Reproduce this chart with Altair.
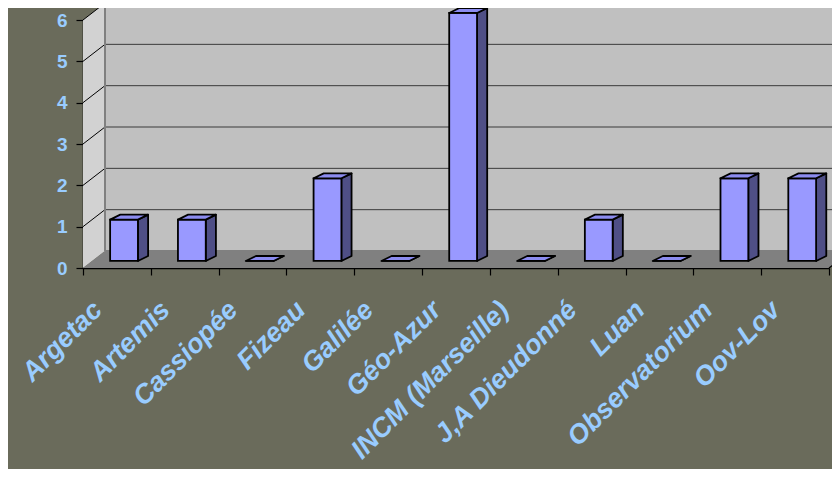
import altair as alt
import pandas as pd

# ---- data ----
categories = ["Argetac", "Artemis", "Cassiopée", "Fizeau", "Galilée", "Géo-Azur",
              "INCM (Marseille)", "J,A Dieudonné", "Luan", "Observatorium", "Oov-Lov"]
values = [1, 1, 0, 2, 0, 6, 0, 1, 0, 2, 2]
y_ticks = [0, 1, 2, 3, 4, 5, 6]

N = len(categories)
YMAX = max(y_ticks)

# ---- 3D geometry (style constants, in data units) ----
DX, DY = 0.324, 0.411        # depth of the box (x, y)
BX0, BX1 = 0.40, 0.81        # bar front face within a category cell
BB = 0.17                    # bar base above the front floor edge
SDX, SDY = 0.15, 0.12        # bar depth

BG = "#6a6b5b"
LABEL = "#99ccff"
FONT = "Liberation Sans"

xs = alt.Scale(domain=[0, N], nice=False, zero=False)
ys = alt.Scale(domain=[0, YMAX], nice=False, zero=False)

x_axis = alt.Axis(values=list(range(N + 1)), labels=False, tickSize=7,
                  tickColor="black", domainColor="black", grid=False,
                  domainWidth=1.5, tickWidth=1.2, title=None)
y_axis = alt.Axis(values=y_ticks, labelColor=LABEL, labelFont=FONT,
                  labelFontWeight="bold", labelFontSize=19, labelPadding=9,
                  tickSize=7, tickColor="black", domainColor="black",
                  grid=False, domainWidth=1.5, tickWidth=1.2, title=None)


def X(f="x"):
    return alt.X(f + ":Q", scale=xs, axis=x_axis, title=None)


def Y(f="y"):
    return alt.Y(f + ":Q", scale=ys, axis=y_axis, title=None)


# back wall
wall = pd.DataFrame({"x": [DX], "x2": [N + DX], "y": [DY], "y2": [YMAX + DY]})
back = alt.Chart(wall).mark_rect(fill="#c0c0c0", stroke="#808080", strokeWidth=2).encode(
    x=X(), x2="x2:Q", y=Y(), y2="y2:Q")

# left wall
lw = pd.DataFrame({"x": [0, DX], "y": [0, DY], "y2": [YMAX, YMAX + DY]})
left = alt.Chart(lw).mark_area(fill="#d2d2d2", orient="vertical").encode(
    x=X(), y=Y(), y2="y2:Q")

# floor
fl = pd.DataFrame({"x": [0, DX, N, N + DX], "y": [0, 0, 0, DY], "y2": [0, DY, DY, DY]})
floor = alt.Chart(fl).mark_area(fill="#808080", orient="vertical").encode(
    x=X(), y=Y(), y2="y2:Q")
floor_edge = alt.Chart(pd.DataFrame({"x": [N], "x2": [N + DX], "y": [0], "y2": [DY]})).mark_rule(
    color="black", strokeWidth=1.2).encode(x=X(), x2="x2:Q", y=Y(), y2="y2:Q")

# grid lines on the back wall and left wall
gl = pd.DataFrame({"k": y_ticks[1:-1]})
gl["y"] = gl["k"] + DY
gl["x"] = DX
gl["x2"] = N + DX
grid_back = alt.Chart(gl).mark_rule(color="#3a3a3a", strokeWidth=1).encode(
    x=X(), x2="x2:Q", y=Y())
gd = pd.DataFrame({"k": y_ticks[1:]})
gd["x"] = 0.0
gd["x2"] = DX
gd["y"] = gd["k"]
gd["y2"] = gd["k"] + DY
grid_left = alt.Chart(gd).mark_rule(color="black", strokeWidth=1).encode(
    x=X(), x2="x2:Q", y=Y(), y2="y2:Q")
left_edge = alt.Chart(pd.DataFrame({"x": [DX], "y": [DY], "y2": [YMAX + DY]})).mark_rule(
    color="#808080", strokeWidth=2).encode(x=X(), y=Y(), y2="y2:Q")

# bars
front_rows, side_rows, top_rows = [], [], []
for i, v in enumerate(values):
    xl, xr, b, t = i + BX0, i + BX1, BB, v + BB
    front_rows.append({"i": i, "x": xl, "x2": xr, "y": b, "y2": t})
    side_rows += [{"i": i, "x": xr, "y": b, "y2": t},
                  {"i": i, "x": xr + SDX, "y": b + SDY, "y2": t + SDY}]
    top_rows += [{"i": i, "x": xl, "y": t, "y2": t},
                 {"i": i, "x": xl + SDX, "y": t, "y2": t + SDY},
                 {"i": i, "x": xr, "y": t, "y2": t + SDY},
                 {"i": i, "x": xr + SDX, "y": t + SDY, "y2": t + SDY}]

side = alt.Chart(pd.DataFrame(side_rows)).mark_area(
    fill="#4f4f86", stroke="black", strokeWidth=1.8, orient="vertical", strokeJoin="round").encode(
    x=X(), y=Y(), y2="y2:Q", detail="i:N")
front = alt.Chart(pd.DataFrame(front_rows)).mark_rect(
    fill="#9999ff", stroke="black", strokeWidth=1.8).encode(
    x=X(), x2="x2:Q", y=Y(), y2="y2:Q")
top = alt.Chart(pd.DataFrame(top_rows)).mark_area(
    fill="#8c8cf0", stroke="black", strokeWidth=1.8, orient="vertical", strokeJoin="round").encode(
    x=X(), y=Y(), y2="y2:Q", detail="i:N")

# category labels
lab = pd.DataFrame({"x": [i + 0.5 for i in range(N)], "y": [0] * N, "label": categories})
labels = alt.Chart(lab).mark_text(
    angle=315, align="right", baseline="middle", xOffset=-19, yOffset=38,
    font=FONT, fontSize=27, fontWeight="bold", fontStyle="italic", color=LABEL).encode(
    x=X(), y=Y(), text="label:N")

chart = alt.layer(back, left, floor, floor_edge, grid_back, grid_left, left_edge,
                  side, front, top, labels).properties(
    width=746, height=248,
    autosize=alt.AutoSizeParams(type="none"),
    padding={"left": 75, "top": 12, "right": 3, "bottom": 201},
    background=BG,
).configure_view(stroke=None)

chart.save("out.html", embed_options={"renderer": "svg", "actions": False})
